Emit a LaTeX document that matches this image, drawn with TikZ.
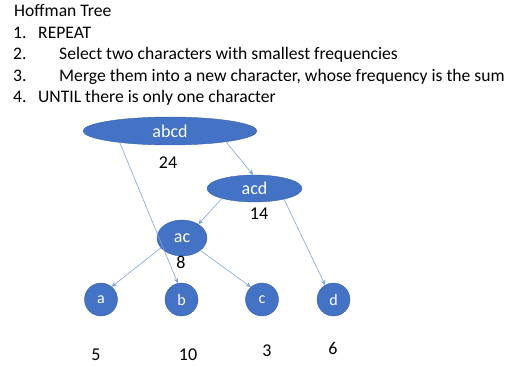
\documentclass[tikz,border=0pt]{standalone}
\usepackage{fontspec}
\setmainfont{Carlito}
\usetikzlibrary{shapes.geometric,arrows.meta}
\definecolor{nodeblue}{HTML}{4472C4}
\definecolor{edgeblue}{HTML}{7FA3DA}
\begin{document}
\begin{tikzpicture}[x=1pt,y=-1pt,
  txt/.style={anchor=base west,inner sep=0pt,font=\fontsize{17.6}{20}\selectfont},
  num/.style={inner sep=0pt,font=\fontsize{18}{20}\selectfont},
  oval/.style={ellipse,fill=nodeblue,draw=nodeblue!85!black,line width=0.4pt,inner sep=0pt,text=white,font=\fontsize{18}{20}\selectfont},
  leaf/.style={circle,fill=nodeblue,draw=nodeblue!85!black,line width=0.4pt,inner sep=0pt,minimum size=33pt,text=white,font=\fontsize{16}{18}\selectfont},
  edge/.style={draw=edgeblue,line width=0.6pt,-{Stealth[length=5pt,width=4.5pt]}}]
\useasboundingbox (0,0) rectangle (522,366);
% text lines
\node[txt] (t0) at (14,17) {Hoffman Tree};
\node[txt] (n1) at (13,38.5) {1.};
\node[txt] (l1) at (38,38.5) {REPEAT};
\node[txt] (n2) at (13,60) {2.};
\node[txt] (l2) at (59,60) {Select two characters with smallest frequencies};
\node[txt] (n3) at (13,81.5) {3.};
\node[txt] (l3) at (59,81.5) {Merge them into a new character, whose frequency is the sum};
\node[txt] (n4) at (13,103) {4.};
\node[txt] (l4) at (38,103) {UNTIL there is only one character};
% tree nodes
\node[oval,minimum width=174pt,minimum height=28pt] (abcd) at (170,131) {abcd};
\node[oval,minimum width=95pt,minimum height=27pt] (acd) at (254.5,188.5) {acd};
\node[oval,minimum width=50pt,minimum height=36pt] (ac) at (182,238) {ac};
\node[leaf] (a) at (101,299.5) {a};
\node[leaf] (b) at (181.5,299.5) {b};
\node[leaf] (c) at (262,299.5) {c};
\node[leaf] (d) at (333.5,299.5) {d};
% frequencies
\node[num] (f24) at (168,163) {24};
\node[num] (f14) at (259,214) {14};
\node[num] (f8) at (181,262) {8};
\node[num] (f5) at (96,355) {5};
\node[num] (f10) at (188,355) {10};
\node[num] (f3) at (267,351) {3};
\node[num] (f6) at (333,348) {6};
% edges
\draw[edge] (abcd.193) -- (b.103);
\draw[edge] (abcd.349) -- (acd.96);
\draw[edge] (acd.197) -- (ac.40);
\draw[edge] (acd.340) -- (d.120);
\draw[edge] (ac.205) -- (a.50);
\draw[edge] (ac.326) -- (c.132);
\end{tikzpicture}
\end{document}
